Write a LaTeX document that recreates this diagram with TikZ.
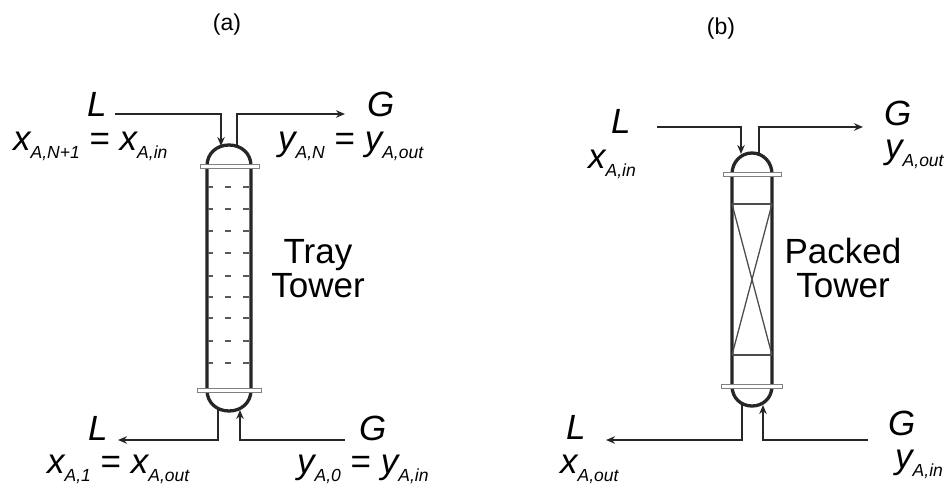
\documentclass[tikz,border=0pt]{standalone}
\usepackage{fontspec}
\setmainfont{Liberation Sans}
\usetikzlibrary{arrows.meta}
\newcommand{\Sb}[1]{\raisebox{-.25em}{\fontsize{17.5}{18}\selectfont #1}}
\begin{document}
\begin{tikzpicture}[x=1pt,y=-1pt,->,>={Stealth[length=9pt,width=7.5pt]},
    pipe/.style={line width=1.5pt,draw=black!85},
    wall/.style={line width=3.3pt,draw=black!85,-},
    flange/.style={draw=black!50,fill=white,line width=1pt,-},
    packing/.style={line width=1.3pt,draw=black!70,-},
    tray/.style={line width=1.6pt,draw=black!65,-},
    var/.style={inner sep=0pt,anchor=base west,font=\fontsize{35}{35}\selectfont\itshape},
    towerlabel/.style={inner sep=0pt,anchor=base,align=center,font=\fontsize{35}{34}\selectfont},
    tag/.style={inner sep=0pt,anchor=base,font=\fontsize{23}{23}\selectfont}]

    \useasboundingbox (0,0) rectangle (947,487);

    % tray tower
    \draw[wall] (207,390) -- (207,166) .. controls (207,153) and (217,145) .. (229,145)
        .. controls (241,145) and (251,153) .. (251,166) -- (251,390)
        .. controls (251,403) and (241,411) .. (229,411)
        .. controls (217,411) and (207,403) .. (207,390);
    \draw[flange] (200,164.5) rectangle (259,168);
    \draw[flange] (197,388.5) rectangle (261,392);
    \foreach \y in {187,209,231,253,276,297,318,341,363} {
        \draw[tray] (208,\y) -- (213,\y);
        \draw[tray] (225,\y) -- (231,\y);
        \draw[tray] (243,\y) -- (249,\y);
    }

    \coordinate (trayLin) at (115,114);
    \coordinate (trayLtop) at (221,114);
    \coordinate (trayLdome) at (221,146);
    \coordinate (trayGdome) at (237,147);
    \coordinate (trayGtop) at (237,114);
    \coordinate (trayGout) at (345,114);
    \coordinate (trayLbase) at (218,409);
    \coordinate (trayLlow) at (218,440);
    \coordinate (trayLout) at (118,440);
    \coordinate (trayGin) at (345,440);
    \coordinate (trayGlow) at (240,440);
    \coordinate (trayGbase) at (240,410);

    \draw[pipe] (trayLin) -- (trayLtop) -- (trayLdome);
    \draw[pipe] (trayGdome) -- (trayGtop) -- (trayGout);
    \draw[pipe] (trayLbase) -- (trayLlow) -- (trayLout);
    \draw[pipe] (trayGin) -- (trayGlow) -- (trayGbase);

    \node[tag] (taga) at (227,31) {(a)};
    \node[var] (trayL) at (87,116) {L};
    \node[var] (trayG) at (367,116) {G};
    \node[var] (trayx) at (13,150) {x\Sb{A,N+1} \upshape= \itshape x\Sb{A,in}};
    \node[var] (trayy) at (278,150) {y\Sb{A,N} \upshape= \itshape y\Sb{A,out}};
    \node[var] (trayL2) at (88,440) {L};
    \node[var] (trayG2) at (359,440) {G};
    \node[var] (trayx2) at (47,473) {x\Sb{A,1} \upshape= \itshape x\Sb{A,out}};
    \node[var] (trayy2) at (297,473) {y\Sb{A,0} \upshape= \itshape y\Sb{A,in}};
    \node[towerlabel] (trayname) at (318,297) {Tray\\Tower};

    % packed tower
    \draw[wall] (732,386) -- (732,174) .. controls (732,162) and (741,153) .. (752,153)
        .. controls (763,153) and (772,162) .. (772,174) -- (772,386)
        .. controls (772,398) and (763,406) .. (752,406)
        .. controls (741,406) and (732,398) .. (732,386);
    \draw[flange] (723,172.5) rectangle (781,176);
    \draw[flange] (721,384.5) rectangle (782,388);
    \draw[packing] (732,204) -- (772,204);
    \draw[packing] (732,355) -- (772,355);
    \draw[packing] (732,204) -- (772,355);
    \draw[packing] (772,204) -- (732,355);

    \coordinate (packLin) at (657,127);
    \coordinate (packLtop) at (741,127);
    \coordinate (packLdome) at (741,154);
    \coordinate (packGdome) at (759,154);
    \coordinate (packGtop) at (759,127);
    \coordinate (packGout) at (863,127);
    \coordinate (packLbase) at (742,405);
    \coordinate (packLlow) at (742,440);
    \coordinate (packLout) at (606,440);
    \coordinate (packGin) at (868,440);
    \coordinate (packGlow) at (763,440);
    \coordinate (packGbase) at (763,405);

    \draw[pipe] (packLin) -- (packLtop) -- (packLdome);
    \draw[pipe] (packGdome) -- (packGtop) -- (packGout);
    \draw[pipe] (packLbase) -- (packLlow) -- (packLout);
    \draw[pipe] (packGin) -- (packGlow) -- (packGbase);

    \node[tag] (tagb) at (721,35) {(b)};
    \node[var] (packL) at (611,133) {L};
    \node[var] (packG) at (884,125) {G};
    \node[var] (packx) at (588,168) {x\Sb{A,in}};
    \node[var] (packy) at (885,158) {y\Sb{A,out}};
    \node[var] (packL2) at (566,439) {L};
    \node[var] (packG2) at (888,435) {G};
    \node[var] (packx2) at (560,473) {x\Sb{A,out}};
    \node[var] (packy2) at (895,468) {y\Sb{A,in}};
    \node[towerlabel] (packname) at (843,297) {Packed\\Tower};
\end{tikzpicture}
\end{document}
